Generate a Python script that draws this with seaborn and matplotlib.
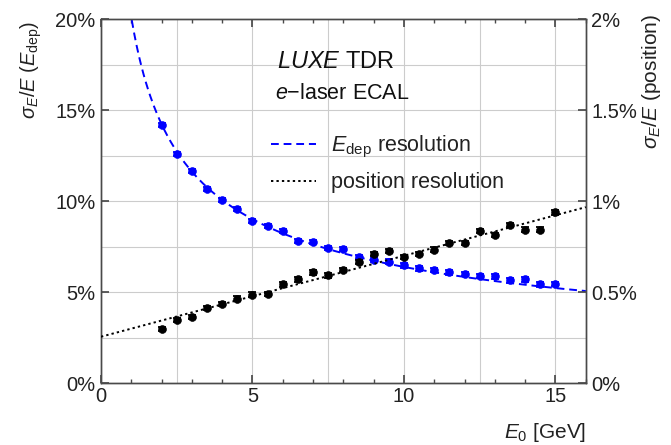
import numpy as np
import pandas as pd
import matplotlib
matplotlib.use('Agg')
import matplotlib.pyplot as plt
from matplotlib.lines import Line2D
from matplotlib.ticker import FuncFormatter, MultipleLocator
import seaborn as sns

# beam energies [GeV]
energy = [2, 2.5, 3, 3.5, 4, 4.5, 5, 5.5, 6, 6.5, 7, 7.5, 8, 8.5, 9, 9.5,
          10, 10.5, 11, 11.5, 12, 12.5, 13, 13.5, 14, 14.5, 15]
# sigma_E/E from deposited energy [%]
edep_res = [14.2, 12.6, 11.65, 10.66, 10.05, 9.56, 8.92, 8.63, 8.35, 7.82, 7.75, 7.42,
            7.38, 6.94, 6.77, 6.68, 6.47, 6.30, 6.21, 6.08, 5.99, 5.90, 5.86, 5.64,
            5.70, 5.42, 5.46]
edep_err = [0.12] * len(energy)
# sigma_E/E from position [%]
pos_res = [0.297, 0.346, 0.364, 0.414, 0.434, 0.465, 0.487, 0.491, 0.542, 0.570, 0.608,
           0.592, 0.621, 0.667, 0.709, 0.727, 0.694, 0.709, 0.734, 0.771, 0.771, 0.837,
           0.813, 0.868, 0.844, 0.844, 0.938]
pos_err = [0.012] * len(energy)

# fit parameters
edep_stoch = 20.1   # % sqrt(GeV)
edep_const = 0.6    # %
pos_offset = 0.255  # %
pos_slope = 0.0445  # % / GeV

df = pd.DataFrame({'E': energy, 'edep': edep_res, 'pos': pos_res})
e1 = np.linspace(0.95, 16, 400)
e2 = np.linspace(0, 16, 100)
fit_edep = pd.DataFrame({'E': e1, 'res': np.sqrt(edep_stoch**2 / e1 + edep_const**2)})
fit_pos = pd.DataFrame({'E': e2, 'res': pos_offset + pos_slope * e2})

sns.set_theme(style='white')
plt.rcParams['font.family'] = ['Liberation Sans', 'DejaVu Sans']
plt.rcParams['mathtext.fontset'] = 'custom'
plt.rcParams['mathtext.rm'] = 'Liberation Sans'
plt.rcParams['mathtext.it'] = 'Liberation Sans:italic'
plt.rcParams['mathtext.bf'] = 'Liberation Sans:bold'

txt = '#222222'
spine = '#4a4a4a'
fs = 14.5

fig = plt.figure(figsize=(6.71, 4.45), dpi=100)
ax = fig.add_axes([0.1505, 0.139, 0.7225, 0.818])
ax2 = ax.twinx()

for v in np.arange(2.5, 16, 2.5):
    ax.axvline(v, color='#cccccc', lw=0.8, zorder=0)
for h in np.arange(2.5, 20, 2.5):
    ax.axhline(h, color='#cccccc', lw=0.8, zorder=0)

blue = '#0000ff'
dash = (0, (4, 2.5))
dot = (0, (1.2, 1.6))
sns.lineplot(data=fit_edep, x='E', y='res', ax=ax, color=blue, lw=1.4,
             linestyle=dash, zorder=3)
ax.errorbar(energy, edep_res, yerr=edep_err, fmt='none', ecolor=blue,
            elinewidth=1.3, capsize=3, capthick=1.3, zorder=4)
sns.scatterplot(data=df, x='E', y='edep', ax=ax, color=blue, s=32,
                edgecolor=blue, zorder=5)

sns.lineplot(data=fit_pos, x='E', y='res', ax=ax2, color='black', lw=1.4,
             linestyle=dot, zorder=3)
ax2.errorbar(energy, pos_res, yerr=pos_err, fmt='none', ecolor='black',
             elinewidth=1.3, capsize=3, capthick=1.3, zorder=4)
sns.scatterplot(data=df, x='E', y='pos', ax=ax2, color='black', s=32,
                edgecolor='black', zorder=5)

ax.set_xlim(0, 16)
ax.set_ylim(0, 20)
ax2.set_ylim(0, 2)
ax.xaxis.set_major_locator(MultipleLocator(5))
ax.xaxis.set_minor_locator(MultipleLocator(1))
ax.yaxis.set_major_locator(MultipleLocator(5))
ax2.yaxis.set_major_locator(MultipleLocator(0.5))
ax.yaxis.set_major_formatter(FuncFormatter(lambda v, p: f'{v:g}%'))
ax2.yaxis.set_major_formatter(FuncFormatter(lambda v, p: f'{v:g}%'))

for a in (ax, ax2):
    for s in a.spines.values():
        s.set_color(spine)
        s.set_linewidth(1.0)
ax.tick_params(axis='x', which='both', direction='in', top=True, bottom=True,
               color=spine, labelcolor=txt, labelsize=fs, pad=3)
ax.tick_params(axis='x', which='major', length=6)
ax.tick_params(axis='x', which='minor', length=3)
ax.tick_params(axis='y', direction='in', left=True, length=6, color=spine,
               labelcolor=txt, labelsize=fs, pad=4)
ax2.tick_params(axis='y', direction='in', right=True, length=6, color=spine,
                labelcolor=txt, labelsize=fs, pad=4)

ax.set_xlabel('$E_0$ [GeV]', loc='right', fontsize=15, color=txt)
ax.xaxis.set_label_coords(1.0, -0.105)
ax.set_ylabel(r'$\sigma_E/E$ ($E_\mathrm{dep}$)', loc='top', fontsize=14.5, color=txt)
ax.yaxis.set_label_coords(-0.118, 0.995)
ax2.set_ylabel(r'$\sigma_E/E$ (position)', loc='top', fontsize=15, color=txt)
ax2.yaxis.set_label_coords(1.112, 1.015)

ax.text(0.363, 0.882, r'$LUXE$ TDR', transform=ax.transAxes, fontsize=17,
        color='#111111', va='center')
ax.text(0.359, 0.797, r'$e$$-$laser ECAL', transform=ax.transAxes, fontsize=15.5,
        color='#111111', va='center')

handles = [Line2D([], [], color=blue, lw=1.4, linestyle=dash),
           Line2D([], [], color='black', lw=1.4, linestyle=dot)]
labels = [r'$E_\mathrm{dep}$ resolution', 'position resolution']
ax.legend(handles, labels, loc='center left', bbox_to_anchor=(0.35, 0.603),
          frameon=False, fontsize=15.5, handlelength=2.1, handletextpad=0.7,
          labelspacing=0.55, borderpad=0, borderaxespad=0, labelcolor=txt)

fig.savefig('out.png', dpi=100)
